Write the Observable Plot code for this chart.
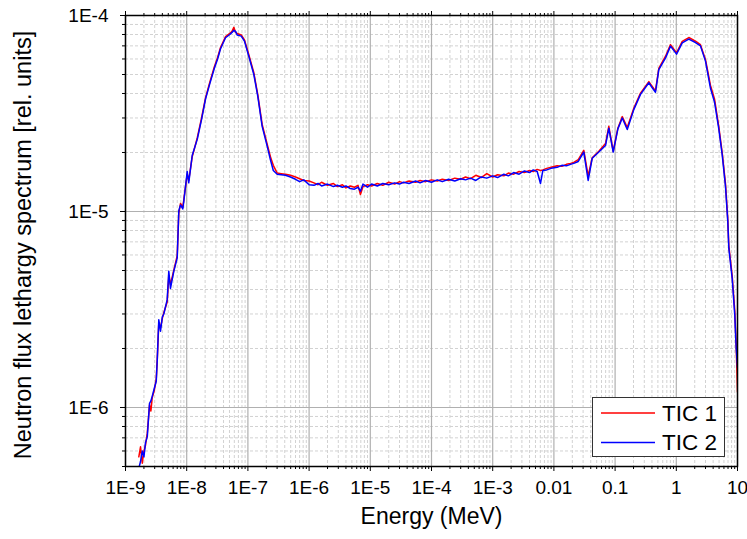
<!DOCTYPE html>
<html><head><meta charset="utf-8">
<script src="https://cdn.jsdelivr.net/npm/d3@7"></script>
<script src="https://cdn.jsdelivr.net/npm/@observablehq/plot@0.6"></script>
<style>
body{margin:0;background:#fff}
#wrap{position:relative;width:747px;height:539px;font-family:"Liberation Sans",Arial,sans-serif}
#legend{position:absolute;left:592px;top:397px;width:131px;height:58px;border:1px solid #333;background:#fff}
</style>
</head><body><div id="wrap"><div id="chart"></div><div id="legend"></div></div>
<script>
const energy = [1.65e-9,1.76e-9,1.88e-9,2.0e-9,2.12e-9,2.27e-9,2.47e-9,2.6e-9,2.73e-9,2.95e-9,3.18e-9,3.30e-9,3.50e-9,3.73e-9,4.0e-9,4.23e-9,4.80e-9,5.10e-9,5.43e-9,6.15e-9,7.00e-9,7.43e-9,7.93e-9,8.63e-9,8.97e-9,
1.02e-8,1.08e-8,1.23e-8,1.49e-8,1.75e-8,2.03e-8,2.38e-8,2.84e-8,3.2e-8,3.56e-8,4.31e-8,5.06e-8,5.5e-8,5.89e-8,6.3e-8,6.68e-8,7.78e-8,8.79e-8,
1.035e-7,1.25e-7,1.45e-7,1.71e-7,2.07e-7,2.34e-7,2.6e-7,3.01e-7,3.5e-7,4.11e-7,4.97e-7,6.0e-7,7.0e-7,8.2e-7,
1.0e-6,1.2e-6,1.4e-6,1.6e-6,2.0e-6,2.5e-6,2.9e-6,3.5e-6,4.0e-6,4.7e-6,5.5e-6,6.3e-6,6.9e-6,7.6e-6,9.0e-6,
1.05e-5,1.3e-5,1.6e-5,2.0e-5,2.5e-5,3.0e-5,3.5e-5,4.3e-5,5.5e-5,6.5e-5,8.0e-5,
1.0e-4,1.24e-4,1.5e-4,1.9e-4,2.4e-4,3.0e-4,3.6e-4,4.34e-4,5.3e-4,6.5e-4,8.0e-4,
1.0e-3,1.2e-3,1.52e-3,1.8e-3,2.2e-3,2.7e-3,3.3e-3,4.0e-3,4.6e-3,5.33e-3,6.04e-3,6.6e-3,7.6e-3,9.0e-3,
1.13e-2,1.35e-2,1.6e-2,1.87e-2,2.11e-2,2.5e-2,3.08e-2,3.63e-2,4.23e-2,5.42e-2,6.97e-2,7.89e-2,9.31e-2,
0.111,0.131,0.158,0.202,0.260,0.356,0.404,0.457,0.518,0.667,0.804,1.01,1.25,1.60,2.06,2.48,3.00,3.62,4.21,4.94,5.62,6.37,6.94,7.21,8.19,9.03,9.53,10];

const tic1 = [5.6e-7,6.3e-7,5.2e-7,6.0e-7,6.4e-7,7.4e-7,1.03e-6,9.6e-7,1.12e-6,1.22e-6,1.40e-6,1.75e-6,2.70e-6,2.55e-6,2.85e-6,3.05e-6,3.45e-6,4.70e-6,4.25e-6,5.00e-6,5.95e-6,9.8e-6,1.10e-5,1.05e-5,1.15e-5,
1.55e-5,1.44e-5,1.90e-5,2.38e-5,3.0e-5,3.80e-5,4.55e-5,5.50e-5,6.1e-5,6.85e-5,7.8e-5,8.1e-5,8.3e-5,8.7e-5,8.2e-5,8.1e-5,7.95e-5,7.5e-5,
6.3e-5,5.1e-5,3.95e-5,2.78e-5,2.2e-5,1.90e-5,1.72e-5,1.57e-5,1.56e-5,1.55e-5,1.53e-5,1.50e-5,1.47e-5,1.44e-5,
1.43e-5,1.40e-5,1.37e-5,1.41e-5,1.36e-5,1.39e-5,1.34e-5,1.37e-5,1.32e-5,1.35e-5,1.33e-5,1.36e-5,1.22e-5,1.34e-5,1.37e-5,
1.35e-5,1.39e-5,1.36e-5,1.41e-5,1.38e-5,1.42e-5,1.40e-5,1.43e-5,1.41e-5,1.44e-5,1.42e-5,
1.45e-5,1.43e-5,1.46e-5,1.44e-5,1.48e-5,1.46e-5,1.50e-5,1.47e-5,1.53e-5,1.49e-5,1.56e-5,
1.50e-5,1.54e-5,1.52e-5,1.57e-5,1.55e-5,1.60e-5,1.58e-5,1.62e-5,1.60e-5,1.64e-5,1.62e-5,1.63e-5,1.66e-5,1.68e-5,
1.71e-5,1.70e-5,1.74e-5,1.76e-5,1.78e-5,1.84e-5,2.05e-5,1.52e-5,1.88e-5,2.03e-5,2.22e-5,2.72e-5,2.03e-5,
2.66e-5,3.05e-5,2.68e-5,3.36e-5,4.02e-5,4.60e-5,4.35e-5,4.12e-5,5.38e-5,6.2e-5,7.1e-5,6.45e-5,7.38e-5,7.72e-5,7.4e-5,7.1e-5,5.95e-5,4.4e-5,3.75e-5,2.72e-5,2.0e-5,1.38e-5,9.1e-6,6.7e-6,4.7e-6,3.1e-6,2.05e-6,1.2e-6];

const tic2 = [4.9e-7,5.3e-7,6.0e-7,5.6e-7,6.6e-7,7.1e-7,1.05e-6,1.08e-6,1.14e-6,1.25e-6,1.36e-6,1.74e-6,2.80e-6,2.45e-6,2.90e-6,3.00e-6,3.55e-6,4.95e-6,4.05e-6,4.95e-6,5.80e-6,1.01e-5,1.08e-5,1.03e-5,1.13e-5,
1.60e-5,1.40e-5,1.93e-5,2.34e-5,2.95e-5,3.75e-5,4.48e-5,5.40e-5,6.0e-5,6.75e-5,7.7e-5,8.0e-5,8.2e-5,8.4e-5,8.3e-5,7.95e-5,7.85e-5,7.4e-5,
6.2e-5,5.0e-5,3.88e-5,2.72e-5,2.15e-5,1.83e-5,1.62e-5,1.55e-5,1.54e-5,1.53e-5,1.50e-5,1.46e-5,1.42e-5,1.45e-5,
1.37e-5,1.36e-5,1.39e-5,1.35e-5,1.38e-5,1.34e-5,1.36e-5,1.33e-5,1.35e-5,1.31e-5,1.30e-5,1.33e-5,1.27e-5,1.38e-5,1.33e-5,
1.38e-5,1.35e-5,1.39e-5,1.37e-5,1.40e-5,1.38e-5,1.41e-5,1.39e-5,1.43e-5,1.40e-5,1.44e-5,
1.41e-5,1.45e-5,1.42e-5,1.46e-5,1.43e-5,1.47e-5,1.45e-5,1.48e-5,1.44e-5,1.50e-5,1.48e-5,
1.52e-5,1.49e-5,1.55e-5,1.52e-5,1.58e-5,1.55e-5,1.61e-5,1.58e-5,1.63e-5,1.60e-5,1.39e-5,1.62e-5,1.63e-5,1.66e-5,
1.68e-5,1.72e-5,1.71e-5,1.74e-5,1.76e-5,1.80e-5,2.01e-5,1.44e-5,1.87e-5,2.01e-5,2.17e-5,2.66e-5,2.01e-5,
2.64e-5,3.00e-5,2.62e-5,3.31e-5,3.96e-5,4.54e-5,4.28e-5,4.06e-5,5.30e-5,6.08e-5,6.98e-5,6.35e-5,7.25e-5,7.58e-5,7.28e-5,7.0e-5,5.85e-5,4.25e-5,3.62e-5,2.65e-5,1.95e-5,1.34e-5,8.9e-6,6.5e-6,4.55e-6,2.95e-6,2.0e-6,1.6e-6];

const seriesNames = ["TIC 1", "TIC 2"];
const seriesColors = ["#ff0000", "#0000ff"];
const xMajor = [1e-9,1e-8,1e-7,1e-6,1e-5,1e-4,1e-3,1e-2,1e-1,1,10];
const xLabels = ["1E-9","1E-8","1E-7","1E-6","1E-5","1E-4","1E-3","0.01","0.1","1","10"];
const yMajor = [1e-6,1e-5,1e-4];
const yLabels = ["1E-6","1E-5","1E-4"];
const xTitle = "Energy (MeV)";
const yTitle = "Neutron flux lethargy spectrum [rel. units]";

const xDomain = [1e-9, 10];
const yDomain = [5e-7, 1e-4];
const minorIn = (dom) => {
  const out = [];
  for (let p = Math.floor(Math.log10(dom[0])); p < Math.ceil(Math.log10(dom[1])); p++)
    for (let m = 2; m <= 9; m++) { const v = m * Math.pow(10, p); if (v > dom[0]*0.999 && v < dom[1]) out.push(v); }
  return out;
};
const xMinor = minorIn(xDomain);
const yMinor = minorIn(yDomain);

const rows = [];
energy.forEach((e, i) => { rows.push({E: e, v: tic1[i], s: seriesNames[0]}); });
energy.forEach((e, i) => { rows.push({E: e, v: tic2[i], s: seriesNames[1]}); });

const font = "Liberation Sans, Arial, sans-serif";
const chart = Plot.plot({
  width: 747, height: 539,
  marginLeft: 125, marginRight: 10, marginTop: 15, marginBottom: 73,
  style: {fontFamily: font, color: "#000", background: "#fff"},
  x: {type: "log", domain: xDomain},
  y: {type: "log", domain: yDomain},
  color: {domain: seriesNames, range: seriesColors},
  marks: [
    Plot.ruleX(xMinor, {stroke: "#d2d2d2", strokeDasharray: "3,2", strokeWidth: 1}),
    Plot.ruleY(yMinor, {stroke: "#d2d2d2", strokeDasharray: "3,2", strokeWidth: 1}),
    Plot.ruleX(xMajor, {stroke: "#b0b0b0", strokeWidth: 1.2}),
    Plot.ruleY(yMajor, {stroke: "#b0b0b0", strokeWidth: 1.2}),
    Plot.line(rows, {x: "E", y: "v", z: "s", stroke: "s", strokeWidth: 1.5, clip: true}),
    Plot.frame({stroke: "#000", strokeWidth: 1.5}),
    Plot.axisX({ticks: xMajor, tickFormat: d => xLabels[xMajor.indexOf(d)], tickSize: 5, tickPadding: 9, fontSize: 19, label: null, stroke: "#000"}),
    Plot.axisX({ticks: xMinor, tickFormat: () => "", tickSize: 3, label: null}),
    Plot.axisX({anchor: "top", ticks: xMajor, tickFormat: () => "", tickSize: 5, label: null}),
    Plot.axisX({anchor: "top", ticks: xMinor, tickFormat: () => "", tickSize: 3, label: null}),
    Plot.axisY({ticks: yMajor, tickFormat: d => yLabels[yMajor.indexOf(d)], tickSize: 5, tickPadding: 12, fontSize: 19, label: null}),
    Plot.axisY({ticks: yMinor, tickFormat: () => "", tickSize: 3, label: null}),
    Plot.text([xTitle], {frameAnchor: "bottom", dy: 57, fontSize: 23, fill: "#000", text: d => d}),
    Plot.text([yTitle], {frameAnchor: "left", dx: -102, dy: 4, rotate: -90, textAnchor: "middle", fontSize: 23.5, fill: "#000", text: d => d})
  ]
});
document.getElementById("chart").appendChild(chart);

// legend
const ns = "http://www.w3.org/2000/svg";
const lg = document.createElementNS(ns, "svg");
lg.setAttribute("width", 131); lg.setAttribute("height", 58);
seriesNames.forEach((name, i) => {
  const yy = 15 + i * 29.5;
  const ln = document.createElementNS(ns, "line");
  ln.setAttribute("x1", 8); ln.setAttribute("x2", 62); ln.setAttribute("y1", yy); ln.setAttribute("y2", yy);
  ln.setAttribute("stroke", seriesColors[i]); ln.setAttribute("stroke-width", 1.4);
  lg.appendChild(ln);
  const tx = document.createElementNS(ns, "text");
  tx.setAttribute("x", 69); tx.setAttribute("y", yy); tx.setAttribute("dy", "0.35em");
  tx.setAttribute("font-size", 22.5); tx.setAttribute("font-family", font); tx.setAttribute("fill", "#000");
  tx.textContent = name;
  lg.appendChild(tx);
});
document.getElementById("legend").appendChild(lg);
</script>
</body></html>
